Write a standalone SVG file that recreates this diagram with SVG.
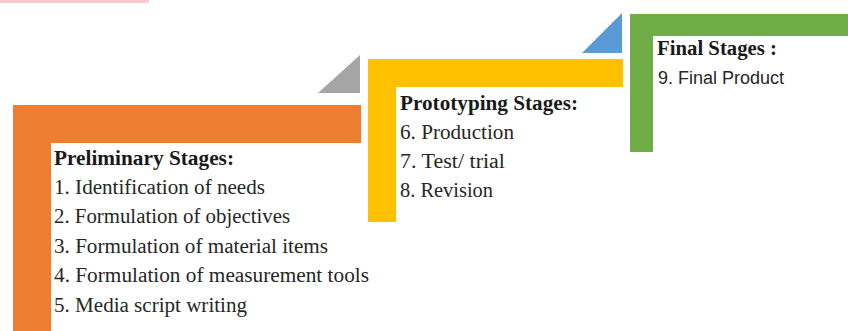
<svg xmlns="http://www.w3.org/2000/svg" width="848" height="331" viewBox="0 0 848 331">
<style>
.h{font-family:"Liberation Serif","DejaVu Serif",serif;font-weight:bold;font-size:20px;fill:#1a1a1a}
.t{font-family:"Liberation Serif","DejaVu Serif",serif;font-size:20px;fill:#262626}
.s{font-family:"Liberation Sans","Open Sans",sans-serif;font-size:18px;fill:#262626}
</style>
<rect x="0" y="0" width="149" height="3" fill="#ffc9c9"/>
<g id="preliminary">
<path d="M13 105H361V143H51V331H13Z" fill="#ED7D31"/>
<text class="h" x="54" y="165" textLength="180" lengthAdjust="spacingAndGlyphs">Preliminary Stages:</text>
<text class="t" x="54" y="194" textLength="211" lengthAdjust="spacingAndGlyphs">1. Identification of needs</text>
<text class="t" x="54" y="223" textLength="236" lengthAdjust="spacingAndGlyphs">2. Formulation of objectives</text>
<text class="t" x="54" y="253" textLength="274" lengthAdjust="spacingAndGlyphs">3. Formulation of material items</text>
<text class="t" x="54" y="282" textLength="315" lengthAdjust="spacingAndGlyphs">4. Formulation of measurement tools</text>
<text class="t" x="54" y="312" textLength="193" lengthAdjust="spacingAndGlyphs">5. Media script writing</text>
</g>
<g id="prototyping">
<path d="M318 93H360V55Z" fill="#A5A5A5"/>
<path d="M368 59H623V87H396V222H368Z" fill="#FFC000"/>
<text class="h" x="400" y="110" textLength="178" lengthAdjust="spacingAndGlyphs">Prototyping Stages:</text>
<text class="t" x="400" y="139" textLength="114" lengthAdjust="spacingAndGlyphs">6. Production</text>
<text class="t" x="400" y="168" textLength="105" lengthAdjust="spacingAndGlyphs">7. Test/ trial</text>
<text class="t" x="400" y="197" textLength="93" lengthAdjust="spacingAndGlyphs">8. Revision</text>
</g>
<g id="final">
<path d="M582 53H622V13Z" fill="#5B9BD5"/>
<path d="M630 14H848V36H653V152H630Z" fill="#70AD47"/>
<text class="h" x="657" y="55" textLength="120" lengthAdjust="spacingAndGlyphs">Final Stages :</text>
<text class="s" x="658" y="84" textLength="126" lengthAdjust="spacingAndGlyphs">9. Final Product</text>
</g>
<g id="connectors"/>
</svg>
